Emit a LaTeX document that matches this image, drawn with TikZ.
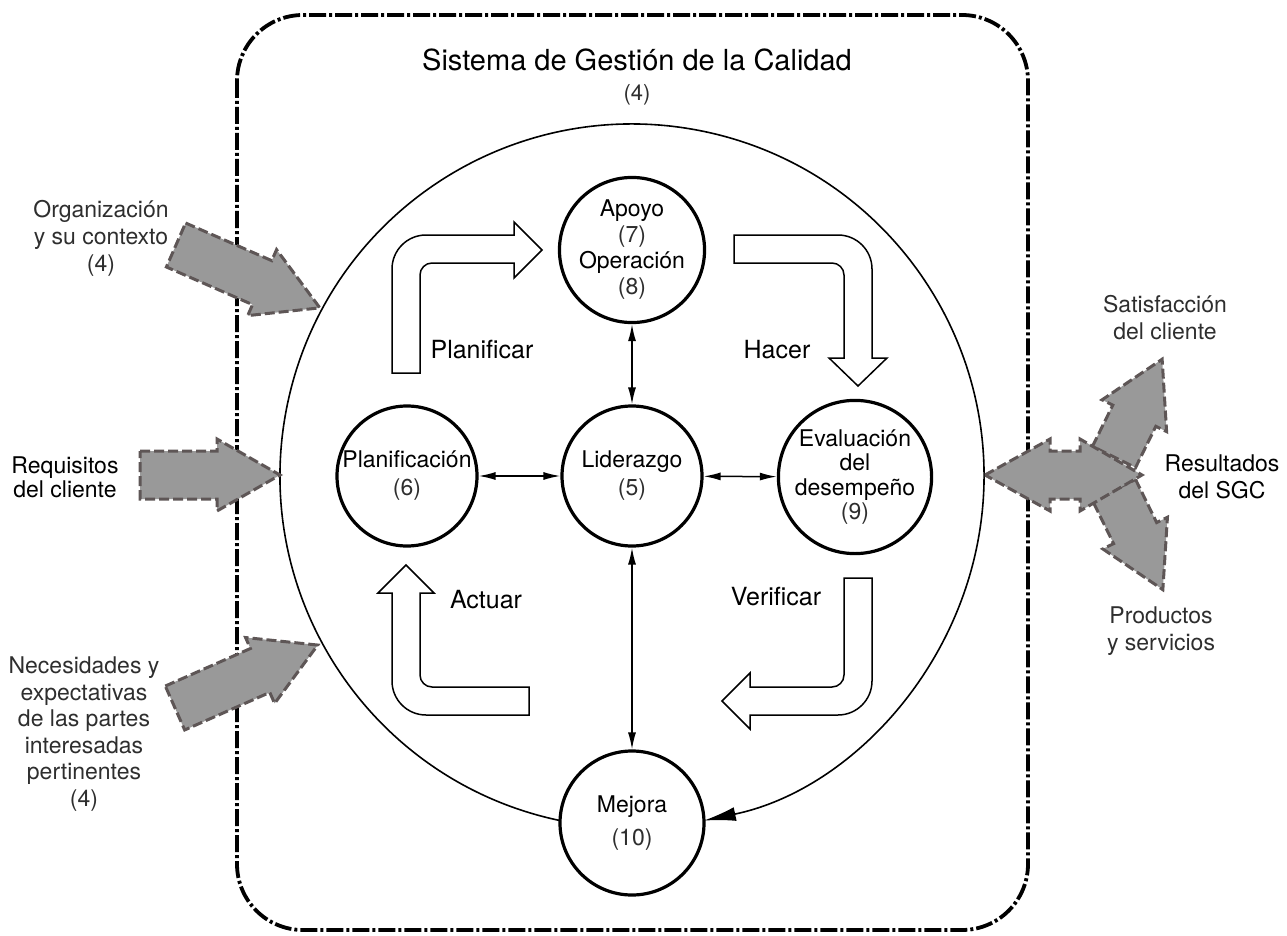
\documentclass[tikz,border=0pt]{standalone}
\usepackage{fontspec}
\setmainfont{TeX Gyre Heros}
\usetikzlibrary{arrows.meta,calc}
\definecolor{arrfill}{HTML}{999999}
\definecolor{arrline}{HTML}{5E5656}
\definecolor{lighttext}{HTML}{2E2E2E}
\tikzset{
  sysbox/.style={line width=3.8pt, dash pattern=on 17pt off 3pt on 3pt off 3pt, rounded corners=66pt},
  bigring/.style={line width=1.6pt},
  proc/.style={circle, draw, line width=3.2pt, fill=white, minimum size=140pt, inner sep=0pt, align=center, font=\fontsize{23}{28}\selectfont},
  link/.style={line width=1.5pt, {Latex[length=17pt,width=8pt]}-{Latex[length=17pt,width=8pt]}},
  uarrow/.style={draw, line width=1.5pt, fill=white, line join=miter},
  garrow/.style={draw=arrline, fill=arrfill, line width=3pt, dash pattern=on 10pt off 4pt},
  phase/.style={font=\fontsize{25}{30}\selectfont},
  titletext/.style={font=\fontsize{29}{32}\selectfont},
  side/.style={align=center, font=\fontsize{23}{27}\selectfont, text=lighttext},
  sidedark/.style={align=center, font=\fontsize{23}{24}\selectfont, text=black},
}
\newcommand\grarrow[3]{%
  \draw[garrow, shift={#1}, rotate=#2] (0,-24) -- ({#3-63},-24) -- ({#3-63},-36) -- (#3,0) -- ({#3-63},36) -- ({#3-63},24) -- (0,24) -- cycle;}
\begin{document}
\begin{tikzpicture}[x=1pt,y=-1pt]
\useasboundingbox (0,0) rectangle (1287,936);
% system boundary
\draw[sysbox] (237,15) rectangle (1028,930);
\node[titletext] (title) at (637,60) {Sistema de Gestión de la Calidad};
\node[side, font=\fontsize{22}{26}\selectfont] (title4) at (637,95) {(4)};
% big cycle
\coordinate (bigc) at (632,476);
\draw[bigring, -{Latex[length=32pt,width=14pt]}] ($(bigc)+(101.77:352)$) arc[start angle=101.77, end angle=438.23, radius=352];
% U arrows
\draw[uarrow] (392,373) -- (392,269) arc[start angle=180, end angle=270, radius=34] -- (514,235) -- (514,222) -- (542,250) -- (514,278) -- (514,263) -- (432,263) arc[start angle=270, end angle=180, radius=12] -- (420,373) -- cycle;
\draw[uarrow] (734,235) -- (838,235) arc[start angle=270, end angle=360, radius=34] -- (872,358) -- (887,358) -- (858,386) -- (829,358) -- (844,358) -- (844,275) arc[start angle=0, end angle=-90, radius=12] -- (734,263) -- cycle;
\draw[uarrow] (529,715) -- (426,715) arc[start angle=90, end angle=180, radius=34] -- (392,593) -- (378,593) -- (406,565) -- (434,593) -- (420,593) -- (420,675) arc[start angle=180, end angle=90, radius=12] -- (529,687) -- cycle;
\draw[uarrow] (844,578) -- (872,578) -- (872,681) arc[start angle=0, end angle=90, radius=34] -- (750,715) -- (750,729) -- (722,701) -- (750,673) -- (750,687) -- (832,687) arc[start angle=90, end angle=0, radius=12] -- cycle;
\node[phase] (planificar) at (482,350) {Planificar};
\node[phase] (hacer) at (777,350) {Hacer};
\node[phase] (actuar) at (486,600) {Actuar};
\node[phase] (verificar) at (776,597) {Verificar};
% process circles
\node[proc, minimum size=138pt] (apoyo) at (632,250) {Apoyo\\[-2pt]{\color{lighttext}(7)}\\[-2pt]Operación\\[-2pt]{\color{lighttext}(8)}};
\node[proc] (plan) at (407,476) {Planificación\\{\color{lighttext}(6)}};
\node[proc] (lider) at (632,476) {Liderazgo\\{\color{lighttext}(5)}};
\node[proc, font=\fontsize{23}{24.5}\selectfont] (eval) at (855,477) {Evaluación\\del\\desempeño\\{\color{lighttext}(9)}};
\node[proc, minimum size=144pt, font=\fontsize{23}{33}\selectfont] (mejora) at (632,823) {Mejora\\{\color{lighttext}(10)}};
\draw[link] (apoyo) -- (lider);
\draw[link] (plan) -- (lider);
\draw[link] (lider) -- (eval);
\draw[link] (lider) -- (mejora);
% inputs
\grarrow{(176,245)}{-23.6}{157}
\grarrow{(140,475)}{0}{140}
\grarrow{(175,708)}{23.8}{156}
\node[side] (org) at (101,238) {Organización\\y su contexto\\(4)};
\node[sidedark] (req) at (65,477) {Requisitos\\del cliente};
\node[side, font=\fontsize{23}{26.5}\selectfont] (nec) at (84,734) {Necesidades y\\expectativas\\de las partes\\interesadas\\pertinentes\\(4)};
% outputs
\grarrow{(1114,457)}{63.8}{109}
\grarrow{(1114,490)}{-63.9}{111}
\draw[garrow] (985,475) -- (1050,439) -- (1050,451) -- (1080,451) -- (1080,439) -- (1142,475) -- (1080,511) -- (1080,499) -- (1050,499) -- (1050,511) -- cycle;
\node[side] (sat) at (1165,318) {Satisfacción\\del cliente};
\node[sidedark, font=\fontsize{23}{27}\selectfont] (res) at (1222,477) {Resultados\\del SGC};
\node[side] (prod) at (1161,631) {Productos\\y servicios};
\end{tikzpicture}
\end{document}
